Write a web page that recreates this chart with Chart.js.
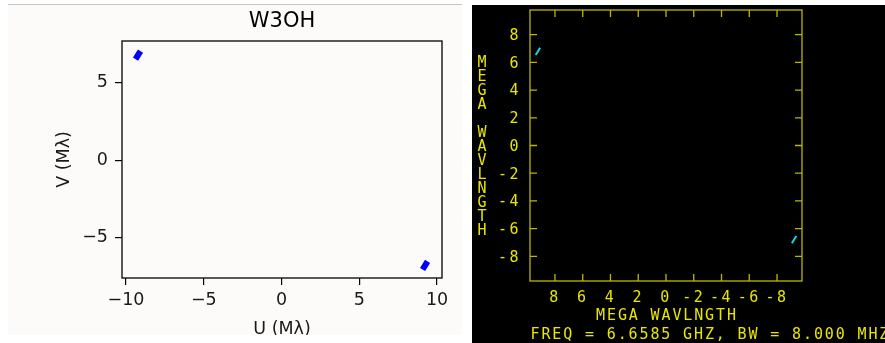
<!DOCTYPE html>
<html>
<head>
<meta charset="utf-8">
<script src="https://cdn.jsdelivr.net/npm/chart.js@4.4.1/dist/chart.umd.min.js"></script>
<style>
  html, body { margin: 0; padding: 0; background: #fff; }
  body { width: 885px; height: 343px; position: relative; overflow: hidden; }
  #mplPanel { position: absolute; left: 8px; top: 5px; width: 454px; height: 330px; background: #fdfbfa; box-shadow: 0 -1px 0 #c4c4c4; }
  #aipsPanel { position: absolute; left: 472px; top: 5px; width: 413px; height: 338px; background: #000; }
  canvas { display: block; }
</style>
</head>
<body>
<div id="mplPanel"><canvas id="uvMpl" width="454" height="330"></canvas></div>
<div id="aipsPanel"><canvas id="uvAips" width="413" height="338"></canvas></div>
<script>
// W3OH uv coverage, one baseline track and its conjugate (mega-wavelengths)
const trackU = [-9.39, -9.07];
const trackV = [6.53, 7.05];
const conjU = [9.39, 9.07];
const conjV = [-6.53, -7.05];

const sourceName = 'W3OH';
const aipsAxisTitle = 'MEGA WAVLNGTH';
const aipsFreqLine = 'FREQ = 6.6585 GHZ, BW = 8.000 MHZ';

const pts = (us, vs, sign) => us.map((u, i) => ({ x: sign * u, y: vs[i] }));

// ---------- matplotlib style panel ----------
const mplFont = { family: 'DejaVu Sans', size: 17.5, weight: 'normal' };
const mplMinus = v => (v < 0 ? '\u2212' + Math.abs(v) : String(v));

const mplBox = {
  id: 'mplBox',
  afterDraw(chart) {
    const { ctx, chartArea: a } = chart;
    ctx.save();
    ctx.strokeStyle = '#000';
    ctx.lineWidth = 1.3;
    ctx.strokeRect(a.left, a.top, a.right - a.left, a.bottom - a.top);
    ctx.restore();
  }
};

const uvLine = (data, color, width) => ({
  data, showLine: true, borderColor: color, backgroundColor: color,
  borderWidth: width, pointRadius: 0, borderCapStyle: 'butt'
});

new Chart(document.getElementById('uvMpl'), {
  type: 'scatter',
  data: {
    datasets: [
      uvLine(pts(trackU, trackV, 1), '#0000ff', 6),
      uvLine(pts(conjU, conjV, 1), '#0000ff', 6)
    ]
  },
  options: {
    responsive: false,
    animation: false,
    layout: { padding: { left: 0, right: 20, top: 0, bottom: 0 } },
    plugins: {
      legend: { display: false },
      tooltip: { enabled: false },
      title: {
        display: true, text: sourceName, fullSize: false, color: '#000',
        font: { family: 'DejaVu Sans', size: 21, weight: 'normal' },
        padding: { top: 4.4, bottom: 6.4 }
      }
    },
    scales: {
      x: {
        type: 'linear', min: -10.26, max: 10.32,
        afterFit(s) { s.height = 57; },
        border: { display: false },
        grid: { drawOnChartArea: false, tickLength: 7, color: '#000', lineWidth: 1.2 },
        ticks: { stepSize: 5, includeBounds: false, padding: 5, color: '#1a1a1a', font: mplFont, maxRotation: 0, autoSkip: false, callback: mplMinus },
        title: { display: true, text: 'U (M\u03bb)', color: '#1a1a1a', font: mplFont, padding: { top: 0, bottom: -5 } }
      },
      y: {
        type: 'linear', min: -7.6, max: 7.7,
        afterFit(s) { s.width = 114; },
        border: { display: false },
        grid: { drawOnChartArea: false, tickLength: 7, color: '#000', lineWidth: 1.2 },
        ticks: { stepSize: 5, includeBounds: false, padding: 7, color: '#1a1a1a', font: mplFont, autoSkip: false, callback: mplMinus },
        title: { display: true, text: 'V (M\u03bb)', color: '#1a1a1a', font: mplFont, padding: { top: 46, bottom: 0 } }
      }
    }
  },
  plugins: [mplBox]
});

// ---------- AIPS UVPLT style panel ----------
const aipsYellow = '#e8e600';
const aipsFrame = '#bcb800';
const aipsCyan = '#10d8e0';
const aipsFont = { family: 'DejaVu Sans Mono', size: 15, weight: 'normal' };
const charStep = 10.9;

const aipsFrameAndText = {
  id: 'aipsFrameAndText',
  beforeDraw(chart) {
    chart.ctx.letterSpacing = '2.5px';
  },
  afterDraw(chart) {
    const { ctx, chartArea: a, scales: { x, y } } = chart;
    ctx.save();
    ctx.letterSpacing = '0px';
    ctx.strokeStyle = aipsFrame;
    ctx.lineWidth = 1.3;
    ctx.strokeRect(a.left, a.top, a.right - a.left, a.bottom - a.top);
    // inward tick marks on all four sides
    ctx.beginPath();
    x.ticks.forEach(t => {
      const px = x.getPixelForValue(t.value);
      ctx.moveTo(px, a.top); ctx.lineTo(px, a.top + 7);
      ctx.moveTo(px, a.bottom); ctx.lineTo(px, a.bottom - 7);
    });
    y.ticks.forEach(t => {
      const py = y.getPixelForValue(t.value);
      ctx.moveTo(a.left, py); ctx.lineTo(a.left + 7, py);
      ctx.moveTo(a.right, py); ctx.lineTo(a.right - 7, py);
    });
    ctx.stroke();

    ctx.fillStyle = aipsYellow;
    ctx.font = `${aipsFont.size}px "${aipsFont.family}"`;
    ctx.textAlign = 'center';
    ctx.textBaseline = 'middle';
    const title = [...aipsAxisTitle];
    const midY = (a.top + a.bottom) / 2 + 2;
    const midX = (a.left + a.right) / 2;
    // vertical label, one letter per row
    title.forEach((c, i) => ctx.fillText(c, 10, midY + (i - (title.length - 1) / 2) * 14));
    // horizontal label under the tick numbers
    title.forEach((c, i) => ctx.fillText(c, midX + (i - (title.length - 1) / 2) * charStep, a.bottom + 35));
    [...aipsFreqLine].forEach((c, i) => ctx.fillText(c, a.left + 5 + i * charStep, a.bottom + 54));
    ctx.restore();
    ctx.letterSpacing = '0px';
  }
};

// the scales keep no extra room for half tick labels at the ends
const noEndPadding = s => { s.paddingTop = 0; s.paddingBottom = 0; s.paddingLeft = 0; s.paddingRight = 0; };

new Chart(document.getElementById('uvAips'), {
  type: 'scatter',
  data: {
    datasets: [
      uvLine(pts(trackU, trackV, -1), aipsCyan, 2),
      uvLine(pts(conjU, conjV, -1), aipsCyan, 2)
    ]
  },
  options: {
    responsive: false,
    animation: false,
    layout: { padding: { left: 0, right: 83, top: 5, bottom: 0 } },
    plugins: { legend: { display: false }, tooltip: { enabled: false }, title: { display: false } },
    scales: {
      x: {
        type: 'linear', reverse: true, min: -9.8, max: 9.8,
        afterFit(s) { s.height = 62; noEndPadding(s); },
        border: { display: false },
        grid: { display: false },
        ticks: { stepSize: 2, includeBounds: false, padding: 0, color: aipsYellow, font: aipsFont, maxRotation: 0, autoSkip: false }
      },
      y: {
        type: 'linear', min: -9.78, max: 9.78,
        afterFit(s) { s.width = 58; noEndPadding(s); },
        border: { display: false },
        grid: { display: false },
        ticks: { stepSize: 2, includeBounds: false, padding: 1, labelOffset: 1.5, color: aipsYellow, font: aipsFont, autoSkip: false }
      }
    }
  },
  plugins: [aipsFrameAndText]
});
</script>
</body>
</html>
